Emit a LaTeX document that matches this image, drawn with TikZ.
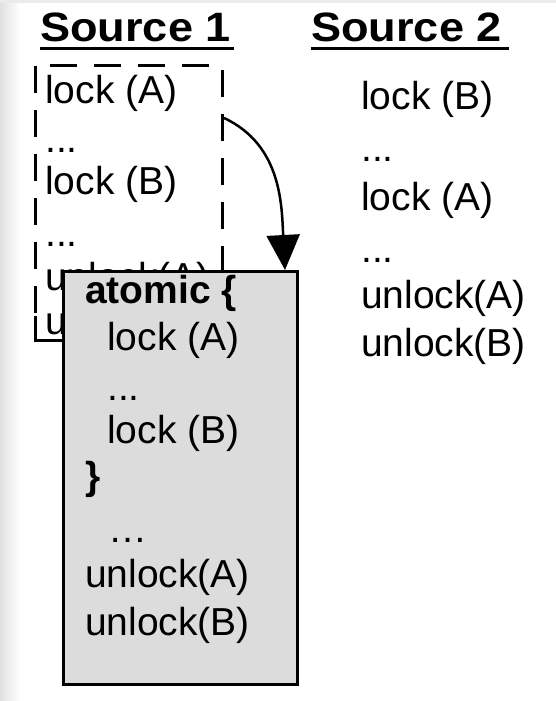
\documentclass[tikz,border=0pt]{standalone}
\usepackage{fontspec}
\setmainfont{Liberation Sans}
\usetikzlibrary{arrows.meta}
\definecolor{boxgray}{RGB}{220,220,220}
\begin{document}
\begin{tikzpicture}[x=1pt,y=-1pt,
  txt/.style={anchor=base west, inner sep=0pt, font=\fontsize{39}{47}\selectfont},
  btxt/.style={anchor=base west, inner sep=0pt, font=\fontsize{39}{47}\selectfont\bfseries},
  title/.style={anchor=base west, inner sep=0pt, xscale=1.1, font=\fontsize{41}{50}\selectfont\bfseries},
  uline/.style={line width=3pt},
  dashbox/.style={line width=3pt, dash pattern=on 27pt off 17pt},
  atombox/.style={draw, line width=3pt, fill=boxgray},
  flow/.style={line width=2.5pt, -{Triangle[length=35pt,width=33pt]}}
]
\useasboundingbox (0,0) rectangle (556,701);
\fill[white] (0,0) rectangle (556,701);
\shade[left color=black!12, right color=white] (0,0) rectangle (20,701);
\fill[black!8] (0,0) rectangle (556,3);

% titles
\node[title] (t1) at (40,42) {Source 1};
\draw[uline] (40,48.5) -- (234,48.5);
\node[title] (t2) at (311,42) {Source 2};
\draw[uline] (311,48.5) -- (509,48.5);

% source 1 lines
\node[txt] (a1) at (45,103) {lock (A)};
\node[txt] (a2) at (45,152) {...};
\node[txt] (a3) at (45,194) {lock (B)};
\node[txt] (a4) at (45,246) {...};
\node[txt] (a5) at (45,290) {unlock(A)};
\node[txt] (a6) at (45,334) {unlock(B)};

% dashed frame
\coordinate (d1) at (35,66);
\coordinate (d2) at (222,340);
\draw[dashbox] (d1) rectangle (d2);
\draw[line width=3pt] (35,316) -- (35,340) -- (64,340);

% source 2 lines
\node[txt] (b1) at (361,109) {lock (B)};
\node[txt] (b2) at (361,161) {...};
\node[txt] (b3) at (361,210) {lock (A)};
\node[txt] (b4) at (361,262) {...};
\node[txt] (b5) at (361,308) {unlock(A)};
\node[txt] (b6) at (361,356) {unlock(B)};

% atomic box
\node[atombox, anchor=north west, minimum width=234pt, minimum height=413pt, inner sep=0pt] (box) at (62,270) {};
\node[btxt] (c1) at (85,303) {atomic \{};
\node[txt] (c2) at (107,350) {lock (A)};
\node[txt] (c3) at (107,400) {...};
\node[txt] (c4) at (107,443) {lock (B)};
\node[btxt] (c5) at (85,489) {\}};
\node[txt] (c6) at (108,542) {…};
\node[txt] (c7) at (85,587) {unlock(A)};
\node[txt] (c8) at (85,635) {unlock(B)};

% arrow
\coordinate (s) at (224,118);
\coordinate (e) at (285,270);
\draw[flow] (s) to[out=-25,in=93] (e);
\end{tikzpicture}
\end{document}
